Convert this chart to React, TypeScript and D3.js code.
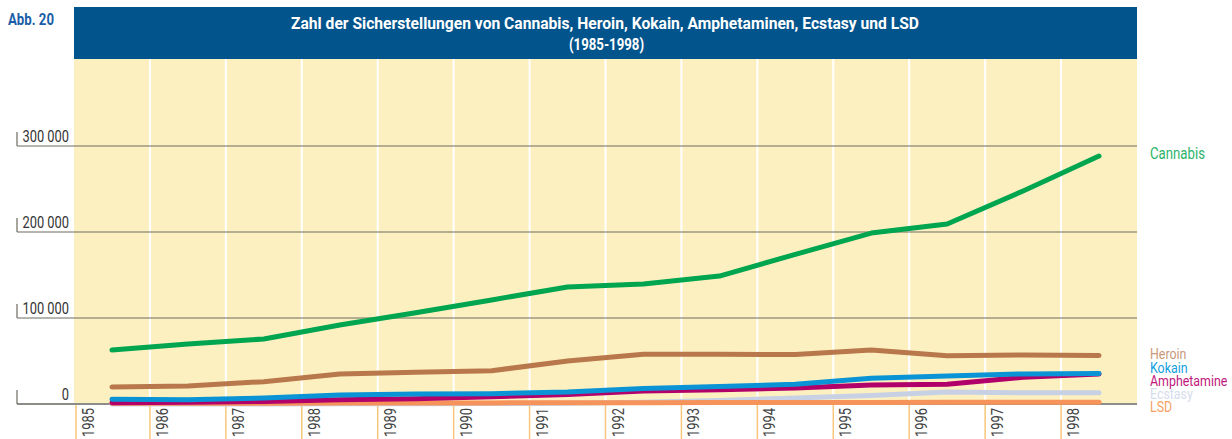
import React from "react";
import * as d3 from "d3";

const years = [1985, 1986, 1987, 1988, 1989, 1990, 1991, 1992, 1993, 1994, 1995, 1996, 1997, 1998];
const yTicks = [0, 100000, 200000, 300000];
const cannabis = [62800, 69800, 75600, 91800, 106000, 121000, 136000, 139500, 148800, 174000, 198800, 209300, 247700, 288400];
const heroin = [19800, 20900, 26000, 34900, 37000, 38700, 50000, 57800, 57800, 57500, 62800, 56000, 57000, 56400];
const kokain = [5500, 5000, 7000, 10500, 11600, 12000, 14000, 18000, 20300, 23000, 30000, 32500, 35000, 35500];
const amphetamine = [1500, 2000, 3000, 5000, 6000, 8500, 11000, 15000, 16500, 18500, 22000, 23000, 31000, 35000];
const ecstasy = [0, 0, 0, 200, 300, 500, 1000, 2000, 4000, 7000, 10000, 14000, 13000, 13000];
const lsd = [800, 900, 1000, 1100, 1200, 1300, 1400, 1500, 1600, 1700, 1800, 1900, 2000, 2000];

const seriesNames = ["Cannabis", "Heroin", "Kokain", "Amphetamine", "Ecstasy", "LSD"];
const seriesValues = [cannabis, heroin, kokain, amphetamine, ecstasy, lsd];
const lineColors = ["#00a550", "#b8784c", "#0a94d6", "#b1006a", "#c8d1e4", "#f6935a"];
const labelColors = ["#2eb36a", "#c9987a", "#12a0e0", "#c0197d", "#d5dced", "#f59f66"];
const drawOrder = [4, 5, 3, 2, 1, 0];

const FONT = "Roboto, 'Liberation Sans', Arial, sans-serif";

function T(props: {
  x: number; y: number; sx?: number; rot?: number; size: number; fill: string;
  anchor?: string; bold?: boolean; children: React.ReactNode;
}) {
  const { x, y, sx = 0.78, rot = 0, size, fill, anchor = "start", bold = false, children } = props;
  return (
    <text
      transform={`translate(${x},${y}) rotate(${rot}) scale(${sx},1)`}
      textAnchor={anchor}
      fontFamily={FONT}
      fontWeight={bold ? "bold" : "normal"}
      fontSize={size}
      fill={fill}
    >
      {children}
    </text>
  );
}

export default function App() {
  const W = 1232, H = 439;
  const left = 74, right = 1137, top = 59, bottom = 404;
  const x = d3.scaleLinear().domain([1985, 1999]).range([left, right]);
  const y = d3.scaleLinear().domain([0, 300000]).range([bottom, 146]);
  const line = d3.line<number>()
    .x((_, i) => x(years[i] + 0.5))
    .y((d) => y(d));

  const legendY = [158.5, 359, 372.5, 385.5, 398.5, 411.5];

  return (
    <svg width={W} height={H} style={{ position: "absolute", left: 0, top: 0, background: "#fff" }}>
      {/* title bar */}
      <rect x={left} y={7} width={right - left} height={top - 7} fill="#02548c" />
      <T x={8} y={25} size={16.5} bold fill="#1a5ea8" sx={0.8}>Abb. 20</T>
      <text x={291} y={29} textLength={628} lengthAdjust="spacingAndGlyphs" fontFamily={FONT} fontWeight="bold" fontSize={16.5} fill="#fff">
        Zahl der Sicherstellungen von Cannabis, Heroin, Kokain, Amphetaminen, Ecstasy und LSD
      </text>
      <T x={(left + right) / 2 + 1} y={50} anchor="middle" size={16.5} bold fill="#fff" sx={0.8}>(1985-1998)</T>
      {/* plot background */}
      <rect x={left} y={top} width={right - left} height={bottom - top} fill="#fdf0c0" />
      {years.slice(1).map((yr) => (
        <line key={yr} x1={x(yr)} x2={x(yr)} y1={top} y2={bottom} stroke="#fff" strokeWidth={2} />
      ))}
      {/* gridlines */}
      {yTicks.map((t) => (
        <g key={t}>
          <line x1={17} x2={right} y1={y(t)} y2={y(t)} stroke={t === 0 ? "#8c8c88" : "#6e6a60"} strokeWidth={t === 0 ? 2 : 1.2} />
          <line x1={17} x2={17} y1={y(t) - 14} y2={y(t)} stroke="#6e6a60" strokeWidth={1.2} />
          <T x={69} y={y(t) - 4} anchor="end" size={16.5} fill="#333">
            {d3.format(",")(t).replace(/,/g, " ")}
          </T>
        </g>
      ))}
      {/* year ticks below */}
      {years.map((yr) => {
        const bx = Math.max(x(yr), 76);
        return (
          <g key={yr}>
            <line x1={bx} x2={bx} y1={bottom + 1} y2={H} stroke="#f7c77c" strokeWidth={1.5} />
            <T x={bx + 18} y={437} rot={-90} size={16.5} fill="#444">{yr}</T>
          </g>
        );
      })}
      {/* lines */}
      {drawOrder.map((k) => (
        <path key={k} d={line(seriesValues[k]) || ""} fill="none" stroke={lineColors[k]} strokeWidth={5} strokeLinecap="round" strokeLinejoin="round" />
      ))}
      {/* labels */}
      {seriesNames.map((n, k) => (
        <T key={n} x={1150} y={legendY[k]} size={k === 0 ? 16.5 : 15.5} fill={labelColors[k]} sx={0.8}>{n}</T>
      ))}
    </svg>
  );
}
